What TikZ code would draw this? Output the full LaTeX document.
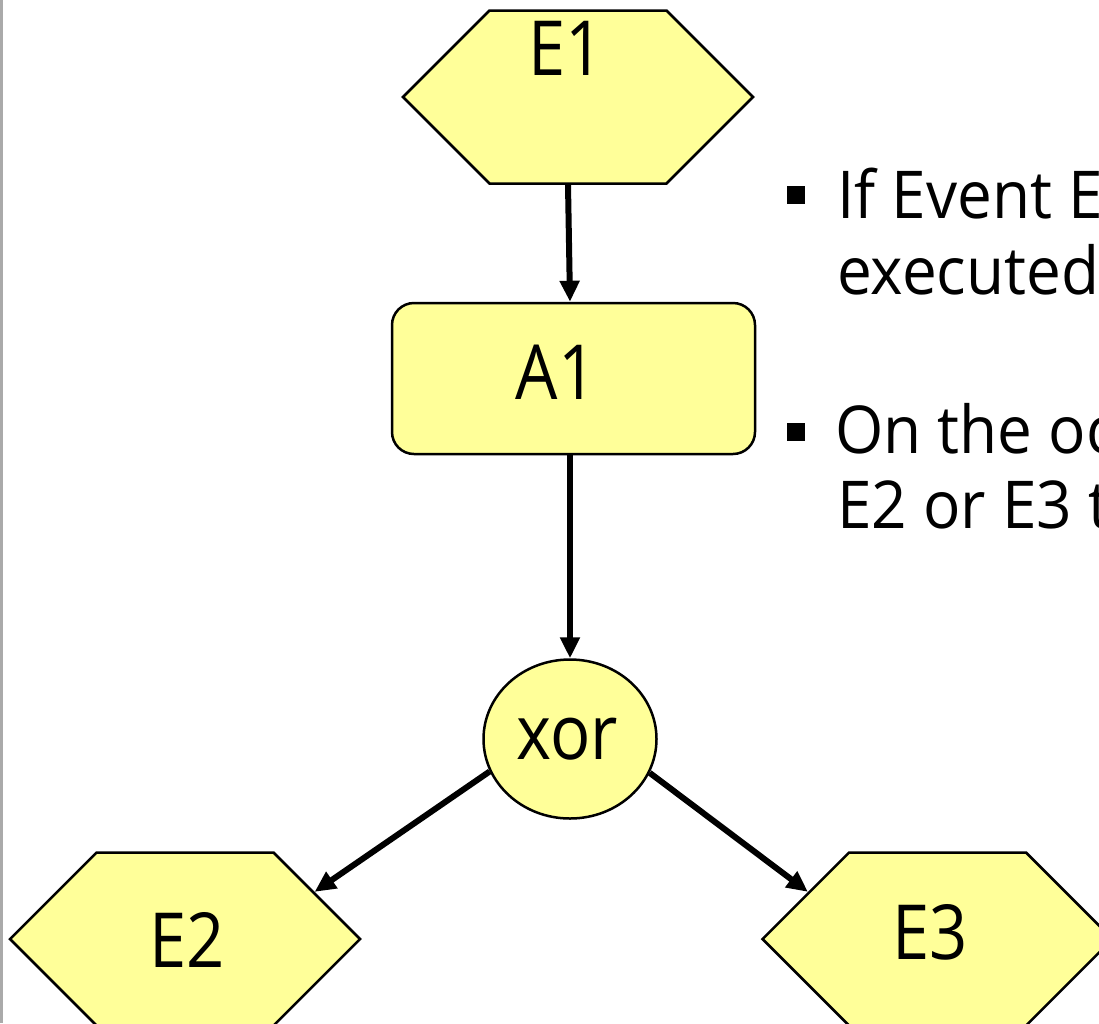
\documentclass[tikz,border=0pt]{standalone}
\usepackage{fontspec}
\setmainfont{Open Sans}
\newfontfamily\lblfont[FakeStretch=0.88]{Open Sans}
\newfontfamily\bulfont[FakeStretch=0.94]{Open Sans}
\usetikzlibrary{shapes.geometric,shapes.symbols,arrows.meta,calc}
\definecolor{fillY}{HTML}{FFFF99}
\definecolor{edgegray}{RGB}{170,170,170}
\begin{document}
\begin{tikzpicture}[x=1pt,y=-1pt,
  hexa/.style={signal, signal to=east and west, signal pointer angle=90, draw=black, line width=2.5pt, fill=fillY, minimum width=350pt, minimum height=173pt, inner sep=0pt},
  actbox/.style={rectangle, rounded corners=22pt, draw=black, line width=2.5pt, fill=fillY, minimum width=363pt, minimum height=151pt, inner sep=0pt},
  gate/.style={ellipse, draw=black, line width=2.5pt, fill=fillY, minimum width=173pt, minimum height=159pt, inner sep=0pt},
  lbl/.style={anchor=base, inner sep=0pt, font=\lblfont\fontsize{76}{76}\selectfont},
  btxt/.style={anchor=base west, inner sep=0pt, font=\bulfont\fontsize{66}{75}\selectfont},
  bsq/.style={rectangle, fill=black, minimum size=18pt, inner sep=0pt},
  conn/.style={line width=6pt, -{Triangle[length=21pt,width=19pt]}}
]
\useasboundingbox (0,0) rectangle (1099,1023);
\clip (0,0) rectangle (1099,1023);
\fill[white] (0,0) rectangle (1099,1023);
\fill[edgegray] (0,0) rectangle (3,1023);

% shapes
\node[hexa] (e1) at (578,97) {};
\node[actbox] (a1) at (573.5,378.5) {};
\node[gate] (xor) at (570,739) {};
\node[hexa] (e2) at (185,939) {};
\node[hexa] (e3) at (937.5,939) {};

% labels
\node[lbl] (e1t) at (566,75) {E1};
\node[lbl] (a1t) at (556,399) {A1};
\node[lbl] (xort) at (567,759) {xor};
\node[lbl] (e2t) at (187,967) {E2};
\node[lbl] (e3t) at (930,959) {E3};

% connectors
\draw[conn] ([xshift=-10pt]e1.south) -- ([xshift=-3.5pt]a1.north);
\draw[conn] ([xshift=-3.5pt]a1.south) -- (xor.north);
\draw[conn] (xor.202) -- (e2.20);
\draw[conn] (xor.337) -- (e3.160);

% bullet text
\node[bsq] (b1) at (796,195) {};
\node[btxt] (t1a) at (837,218) {If Event E};
\node[btxt] (t1b) at (837,294) {executed};
\node[bsq] (b2) at (796,432) {};
\node[btxt] (t2a) at (835,453) {On the oc};
\node[btxt] (t2b) at (837,528) {E2 or E3 t};
\end{tikzpicture}
\end{document}
